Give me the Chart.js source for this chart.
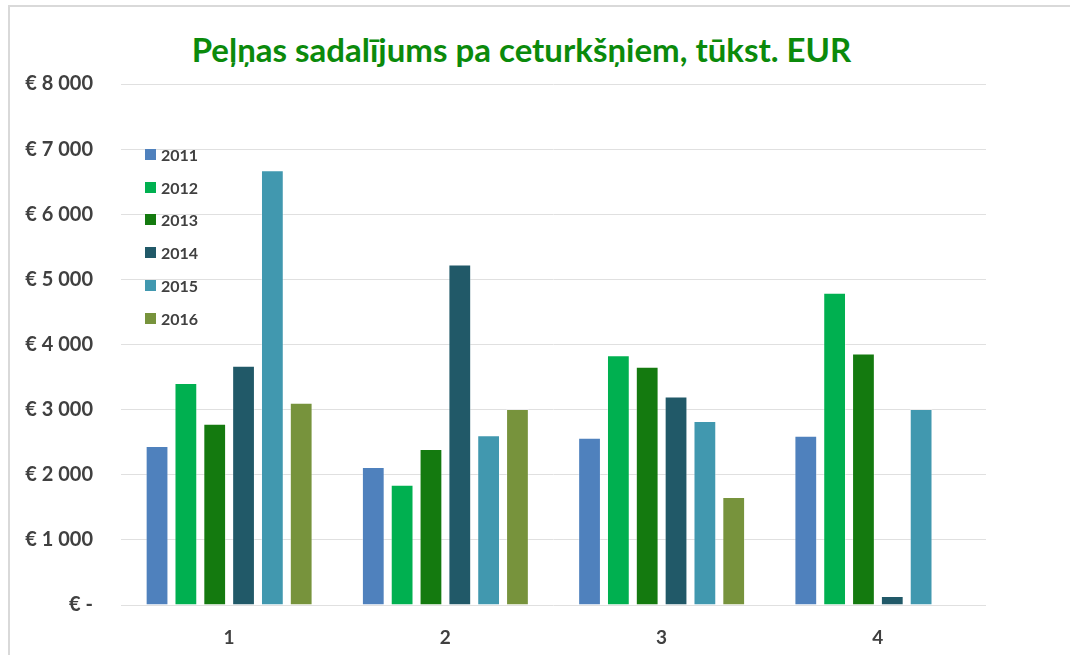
<!DOCTYPE html>
<html lang="lv">
<head>
    <meta charset="UTF-8">
    <title>Peļņas sadalījums pa ceturkšņiem</title>
    <script src="https://cdn.jsdelivr.net/npm/chart.js"></script>
    <style>
        body { margin: 0; background: #fff; }
        #wrap { position: relative; width: 1070px; height: 655px; overflow: hidden; }
        #frame { position: absolute; left: 8px; top: 5px; right: -5px; bottom: -5px; border-left: 2px solid #d9d9d9; border-top: 2px solid #d9d9d9; }
        #title { position: absolute; left: 0; width: 1043px; top: 29px; text-align: center; line-height: 40px;
                 font: bold 33px Lato, sans-serif; color: #0b8a0b; }
        #legend { position: absolute; left: 145px; top: 138px; font: bold 16px Lato, sans-serif; color: #404040; }
        #legend div { height: 32.8px; display: flex; align-items: center; }
        #legend span { display: inline-block; width: 11px; height: 11px; margin-right: 5px; }
        canvas { position: absolute; left: 0; top: 0; }
    </style>
</head>
<body>
    <div id="wrap">
        <div id="frame"></div>
        <div id="title">Peļņas sadalījums pa ceturkšņiem, tūkst. EUR</div>
        <canvas id="profitChart" width="1070" height="655"></canvas>
        <div id="legend"></div>
    </div>

    <script>
        // Quarters and yearly profit per quarter (thousand EUR)
        const quarters = ['1', '2', '3', '4'];
        const years = ['2011', '2012', '2013', '2014', '2015', '2016'];
        const profit2011 = [2440, 2120, 2570, 2600];
        const profit2012 = [3410, 1845, 3835, 4795];
        const profit2013 = [2785, 2395, 3660, 3860];
        const profit2014 = [3675, 5230, 3200, 140];
        const profit2015 = [6675, 2605, 2825, 3010];
        const profit2016 = [3105, 3010, 1660, null];
        const yearColors = ['#4f81bd', '#00b050', '#147a0f', '#215968', '#4198af', '#77933c'];

        const yTicks = [0, 1000, 2000, 3000, 4000, 5000, 6000, 7000, 8000];

        const series = [profit2011, profit2012, profit2013, profit2014, profit2015, profit2016];

        function euro(v) {
            if (v === 0) return '€ -';
            return '€ ' + String(v).replace(/\B(?=(\d{3})+(?!\d))/g, ' ');
        }

        const ctx = document.getElementById('profitChart').getContext('2d');
        const chart = new Chart(ctx, {
            type: 'bar',
            data: {
                labels: quarters,
                datasets: years.map((y, i) => ({
                    label: y,
                    data: series[i],
                    backgroundColor: yearColors[i],
                    borderColor: 'rgba(255,255,255,0.35)',
                    borderWidth: 1,
                    categoryPercentage: 0.8,
                    barPercentage: 0.79,
                })),
            },
            options: {
                responsive: false,
                animation: false,
                layout: { padding: { top: 84, right: 84, left: 0, bottom: 0 } },
                plugins: {
                    legend: { display: false },
                    title: { display: false },
                    tooltip: { enabled: false },
                },
                scales: {
                    x: {
                        grid: { display: false },
                        border: { display: false },
                        ticks: {
                            padding: 13,
                            color: '#404040',
                            font: { family: 'Lato', size: 19, weight: 'bold' },
                        },
                        afterFit: s => { s.height = 50; },
                    },
                    y: {
                        min: 0,
                        max: 8000,
                        afterBuildTicks: s => { s.ticks = yTicks.map(v => ({ value: v })); },
                        grid: { color: '#e0e0e0', lineWidth: 1, drawTicks: false },
                        border: { display: false },
                        ticks: {
                            padding: 28,
                            color: '#404040',
                            font: { family: 'Lato', size: 20, weight: 'bold' },
                            callback: v => euro(v),
                        },
                        afterFit: s => { s.width = 121; },
                    },
                },
            },
        });

        // legend list built from datasets
        const legendEl = document.getElementById('legend');
        chart.data.datasets.forEach(ds => {
            const row = document.createElement('div');
            const box = document.createElement('span');
            box.style.background = ds.backgroundColor;
            row.appendChild(box);
            row.appendChild(document.createTextNode(ds.label));
            legendEl.appendChild(row);
        });
    </script>
</body>
</html>
